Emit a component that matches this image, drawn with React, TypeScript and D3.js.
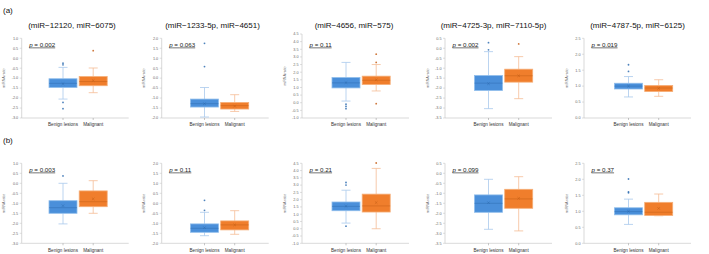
import React from "react";
import * as d3 from "d3";

// Panel headings (top row only) and p-values for both rows
const titles = [
  "(miR\u221212120, miR\u22126075)",
  "(miR\u22121233-5p, miR\u22124651)",
  "(miR\u22124656, miR\u2212575)",
  "(miR\u22124725-3p, miR\u22127110-5p)",
  "(miR\u22124787-5p, miR\u22126125)",
];
const pValuesA = ["0.002", "0.063", "0.11", "0.002", "0.019"];
const pValuesB = ["0.003", "0.11", "0.21", "0.099", "0.37"];
const rowLabels = ["(a)", "(b)"];
const groups = ["Benign lesions", "Malignant"];

// y-axis domains per panel column
const yDomains: [number, number][] = [
  [-3, 1],
  [-2, 2],
  [-1, 4.5],
  [-3.5, 0.5],
  [0, 2.5],
];

// Box statistics: [lower whisker, Q1, median, Q3, upper whisker, mean]
const benignStatsA = [
  [-2.05, -1.47, -1.26, -1.03, -0.46, -1.28],
  [-1.95, -1.45, -1.28, -1.05, -0.47, -1.28],
  [0.11, 0.97, 1.3, 1.65, 2.64, 1.32],
  [-3.03, -2.12, -1.75, -1.37, -0.17, -1.78],
  [0.66, 0.91, 1.0, 1.09, 1.3, 1.0],
];
const malignantStatsA = [
  [-1.73, -1.38, -1.17, -0.92, -0.49, -1.12],
  [-1.67, -1.55, -1.38, -1.22, -0.83, -1.4],
  [0.77, 1.19, 1.47, 1.74, 2.5, 1.5],
  [-2.53, -1.7, -1.38, -1.05, -0.42, -1.38],
  [0.68, 0.83, 0.94, 1.02, 1.2, 0.93],
];
const benignStatsB = [
  [-2.03, -1.5, -1.22, -0.87, 0.0, -1.12],
  [-1.62, -1.45, -1.25, -1.03, -0.45, -1.22],
  [0.39, 1.24, 1.54, 1.84, 2.65, 1.55],
  [-2.8, -1.95, -1.5, -1.08, -0.3, -1.47],
  [0.59, 0.89, 0.99, 1.11, 1.38, 1.0],
];
const malignantStatsB = [
  [-1.5, -1.17, -0.92, -0.38, 0.13, -0.78],
  [-1.55, -1.33, -1.08, -0.88, -0.37, -1.08],
  [0.0, 1.15, 1.57, 2.38, 4.15, 1.8],
  [-2.88, -1.75, -1.28, -0.8, -0.17, -1.25],
  [0.86, 0.87, 0.97, 1.28, 1.54, 1.09],
];

// Outlying points
const benignOutliersA = [
  [-0.25, -0.33, -2.22, -2.53],
  [1.75, 0.58],
  [-0.1, -0.24, -0.39],
  [0.28, -0.08],
  [1.67, 1.46],
];
const malignantOutliersA = [[0.38], [], [3.18, 2.64, -0.06], [0.22], []];
const benignOutliersB = [[0.37], [0.15, -0.35], [3.18, 3.0, 0.18], [], [2.01, 1.61, 1.58]];
const malignantOutliersB = [[], [], [4.52], [], []];

// Layout
const W = 709;
const H = 254;
const axisLeft = [21.7, 161.7, 302, 445, 584];
const firstCenter = [63, 204.5, 346, 488.5, 628.5];
const titleShift = [9, 8, 8, 5, 9];
const catGap = 30.2;
const plotWidth = 107;
const rowTopsA = [38.3, 38.3, 34, 38.3, 38.3];
const rowTopsB = [163.3, 163.3, 163.3, 163.3, 163.3];
const rowBottoms = [118, 243.3];
const boxW = 28;
const capW = 9;

const palette = [
  { fill: "#4A8FDA", edge: "#8FBDEB", whisker: "#A9C9EC", dark: "#2E6CB0" },
  { fill: "#F07E2C", edge: "#F5AE78", whisker: "#F5BD95", dark: "#C55E16" },
];

const font = "'Liberation Sans', Arial, sans-serif";

type Stats = number[];

function BoxMark({
  cx,
  y,
  s,
  outliers,
  c,
}: {
  cx: number;
  y: d3.ScaleLinear<number, number>;
  s: Stats;
  outliers: number[];
  c: (typeof palette)[number];
}) {
  const [lo, q1, med, q3, hi, mean] = s;
  const m = 1.3;
  return (
    <g>
      <line x1={cx} x2={cx} y1={y(q3)} y2={y(hi)} stroke={c.whisker} strokeWidth={0.8} />
      <line x1={cx} x2={cx} y1={y(q1)} y2={y(lo)} stroke={c.whisker} strokeWidth={0.8} />
      <line x1={cx - capW / 2} x2={cx + capW / 2} y1={y(hi)} y2={y(hi)} stroke={c.whisker} strokeWidth={0.8} />
      <line x1={cx - capW / 2} x2={cx + capW / 2} y1={y(lo)} y2={y(lo)} stroke={c.whisker} strokeWidth={0.8} />
      <rect
        x={cx - boxW / 2}
        y={y(q3)}
        width={boxW}
        height={y(q1) - y(q3)}
        fill={c.fill}
        stroke={c.edge}
        strokeWidth={0.8}
      />
      <line x1={cx - boxW / 2} x2={cx + boxW / 2} y1={y(med)} y2={y(med)} stroke={c.dark} strokeWidth={0.5} />
      <path
        d={`M${cx - m},${y(mean) - m}L${cx + m},${y(mean) + m}M${cx - m},${y(mean) + m}L${cx + m},${y(mean) - m}`}
        stroke={c.dark}
        strokeWidth={0.5}
        fill="none"
      />
      {outliers.map((v, k) => (
        <circle key={k} cx={cx} cy={y(v)} r={0.9} fill={c.dark} opacity={0.85} />
      ))}
    </g>
  );
}

function Panel({
  row,
  col,
  top,
  pValue,
  benign,
  malignant,
  benignOut,
  malignantOut,
}: {
  row: number;
  col: number;
  top: number;
  pValue: string;
  benign: Stats;
  malignant: Stats;
  benignOut: number[];
  malignantOut: number[];
}) {
  const bottom = rowBottoms[row];
  const ax = axisLeft[col];
  const [d0, d1] = yDomains[col];
  const y = d3.scaleLinear().domain([d0, d1]).range([bottom, top]);
  const x = d3
    .scalePoint<string>()
    .domain(groups)
    .range([firstCenter[col], firstCenter[col] + catGap]);
  const ticks = d3.range(d0, d1 + 0.001, 0.5);
  const fmt = d3.format(".1f");
  const midY = (top + bottom) / 2;
  const pY = row === 0 ? 46.6 : 171.6;
  const pX = ax + 7.5;
  return (
    <g>
      {/* axes */}
      <line x1={ax} x2={ax} y1={top} y2={bottom} stroke="#BFBFBF" strokeWidth={0.6} />
      <line x1={ax} x2={ax + plotWidth} y1={bottom} y2={bottom} stroke="#BFBFBF" strokeWidth={0.6} />
      {ticks.map((t) => (
        <g key={t}>
          <line x1={ax - 2} x2={ax} y1={y(t)} y2={y(t)} stroke="#BFBFBF" strokeWidth={0.5} />
          <text
            x={ax - 3.5}
            y={y(t)}
            dy="0.35em"
            textAnchor="end"
            fontSize={3.8}
            fill="#6b6b6b"
            fontFamily={font}
          >
            {fmt(t).replace("\u2212", "-")}
          </text>
        </g>
      ))}
      {groups.map((g) => (
        <g key={g}>
          <line x1={x(g)} x2={x(g)} y1={bottom} y2={bottom + 2} stroke="#8c8c8c" strokeWidth={0.5} />
          <text
            x={x(g)}
            y={bottom + 8.2}
            textAnchor="middle"
            fontSize={4.6}
            fill="#333"
            fontFamily={font}
          >
            {g}
          </text>
        </g>
      ))}
      <text
        transform={`translate(${ax - 16.5},${midY}) rotate(-90)`}
        textAnchor="middle"
        fontSize={3.6}
        fill="#6b6b6b"
        fontFamily={font}
      >
        miRNA ratio
      </text>
      {/* p-value */}
      <text x={pX} y={pY} fontSize={6.2} fill="#222" fontFamily={font} textDecoration="underline">
        <tspan fontStyle="italic">p</tspan> = {pValue}
      </text>
      <BoxMark cx={x(groups[0])!} y={y} s={benign} outliers={benignOut} c={palette[0]} />
      <BoxMark cx={x(groups[1])!} y={y} s={malignant} outliers={malignantOut} c={palette[1]} />
    </g>
  );
}

export default function App() {
  const titleCenters = firstCenter.map((c, i) => c + titleShift[i]);
  return (
    <div style={{ position: "fixed", left: 0, top: 0 }}>
      <svg width={W} height={H} viewBox={`0 0 ${W} ${H}`} style={{ display: "block", background: "#fff" }}>
        <text x={3} y={12.8} fontSize={8} fill="#111" fontFamily={font}>
          {rowLabels[0]}
        </text>
        <text x={3} y={143} fontSize={8} fill="#111" fontFamily={font}>
          {rowLabels[1]}
        </text>
        {titles.map((t, i) => (
          <text
            key={t}
            x={titleCenters[i]}
            y={27.8}
            textAnchor="middle"
            fontSize={8}
            fill="#111"
            fontFamily={font}
          >
            {t}
          </text>
        ))}
        {titles.map((_, i) => (
          <Panel
            key={`a${i}`}
            row={0}
            col={i}
            top={rowTopsA[i]}
            pValue={pValuesA[i]}
            benign={benignStatsA[i]}
            malignant={malignantStatsA[i]}
            benignOut={benignOutliersA[i]}
            malignantOut={malignantOutliersA[i]}
          />
        ))}
        {titles.map((_, i) => (
          <Panel
            key={`b${i}`}
            row={1}
            col={i}
            top={rowTopsB[i]}
            pValue={pValuesB[i]}
            benign={benignStatsB[i]}
            malignant={malignantStatsB[i]}
            benignOut={benignOutliersB[i]}
            malignantOut={malignantOutliersB[i]}
          />
        ))}
      </svg>
    </div>
  );
}
